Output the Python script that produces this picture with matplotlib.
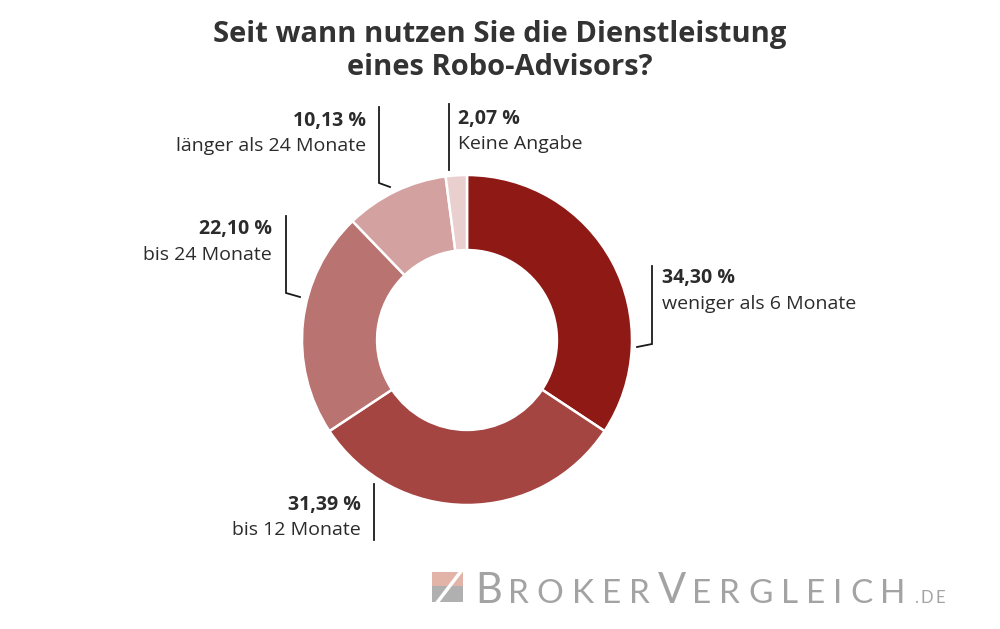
import matplotlib
matplotlib.use("Agg")
import matplotlib.pyplot as plt
from matplotlib.patches import Polygon

# data (clockwise from 12 o'clock)
shares = [34.30, 31.39, 22.10, 10.13, 2.07]
labels = ["weniger als 6 Monate", "bis 12 Monate", "bis 24 Monate",
          "länger als 24 Monate", "Keine Angabe"]
colors = ["#8e1915", "#a54542", "#b97370", "#d3a19f", "#eacfcf"]
title = "Seit wann nutzen Sie die Dienstleistung\neines Robo-Advisors?"

W, H = 1000, 629
fig = plt.figure(figsize=(W / 100, H / 100), dpi=100)
plt.rcParams['font.family'] = ['Open Sans', 'DejaVu Sans']

# pie axes: centre (467, 340) px, radius 165 px
cx, cy, r = 467, 340, 165
ax = fig.add_axes([(cx - r) / W, (H - cy - r) / H, 2 * r / W, 2 * r / H])
ax.pie(shares, colors=colors, startangle=90, counterclock=False,
       wedgeprops=dict(width=0.455, edgecolor="white", linewidth=1.8))
ax.set_xlim(-1, 1)
ax.set_ylim(-1, 1)
ax.set_aspect("equal")

# overlay in pixel coordinates for labels, leaders and logo
ov = fig.add_axes([0, 0, 1, 1])
ov.set_xlim(0, W)
ov.set_ylim(H, 0)
ov.axis("off")
ov.patch.set_alpha(0)

fig.text(0.5, 1 - 51 / H, title, ha="center", va="center", fontsize=21,
         fontweight="bold", color="#333333", linespacing=1.2)

txt = "#2b2b2b"
# (label x, pct y, name y, align, leader points)
layout = [
    (662, 278, 304, "left", [(652, 266), (652, 344), (637, 347)]),
    (361, 505, 530, "right", [(374, 484), (374, 540)]),
    (272, 229, 255, "right", [(286, 216), (286, 293), (300, 297)]),
    (366, 121, 146, "right", [(379, 107), (379, 183), (390, 187)]),
    (458, 119, 144, "left", [(449, 104), (449, 170)]),
]
for val, name, (lx, py, ny, ha, pts) in zip(shares, labels, layout):
    ov.text(lx, py, f"{val:.2f}".replace(".", ",") + " %", ha=ha, va="center",
            fontsize=14, fontweight="bold", color=txt)
    ov.text(lx, ny, name, ha=ha, va="center", fontsize=14, color=txt)
    xs, ys = zip(*pts)
    ov.plot(xs, ys, color="#1a1a1a", lw=1.3, solid_joinstyle="miter")

# logo icon
ov.add_patch(Polygon([(432, 572), (463, 572), (463, 586), (432, 586)], closed=True,
                     facecolor="#e2b4a8", edgecolor="none"))
ov.add_patch(Polygon([(432, 586), (463, 586), (463, 602), (432, 602)], closed=True,
                     facecolor="#b0b0b0", edgecolor="none"))
ov.plot([436, 462], [604, 570], color="white", lw=2.5)

fig.canvas.draw()
rend = fig.canvas.get_renderer()
x = 475
base = 603
logo_grey = "#a3a3a3"
for part, size, track in [("B", 30, 6), ("ROKER", 24, 8), ("V", 30, 6),
                          ("ERGLEICH", 24, 8), (".DE", 12, 2.5)]:
    for ch in part:
        t = ov.text(x, base, ch, ha="left", va="baseline", fontsize=size,
                    color=logo_grey, family="Lato")
        x += t.get_window_extent(rend).width + track

fig.savefig("out.png", dpi=100)
